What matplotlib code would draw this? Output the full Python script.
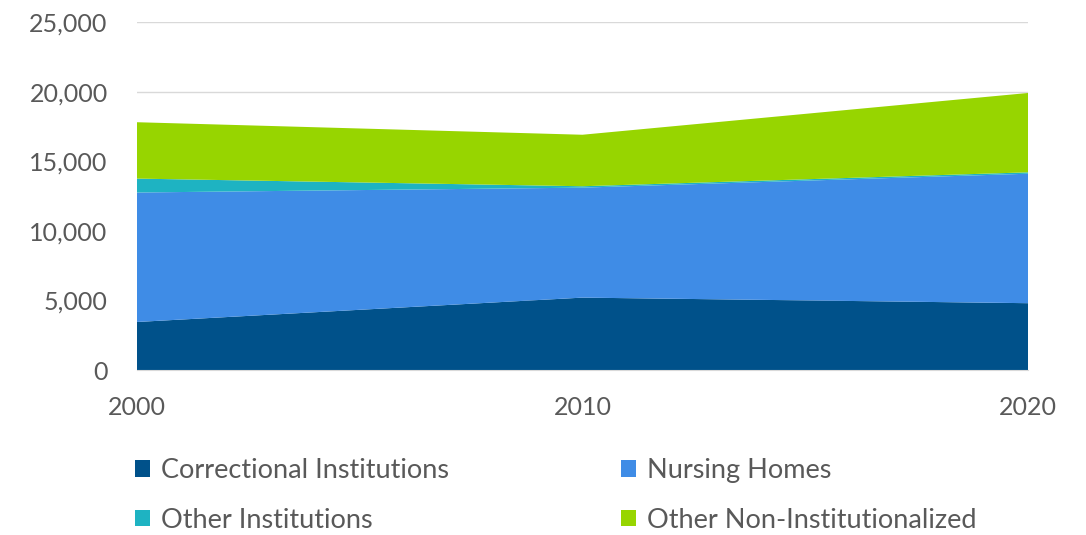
import matplotlib
matplotlib.use("Agg")
import matplotlib.pyplot as plt
from matplotlib.patches import Patch
from matplotlib.ticker import FuncFormatter

# данные
years = [2000, 2010, 2020]
correctional = [3450, 5200, 4800]
nursing = [9300, 7900, 9300]
other_inst = [1000, 100, 100]
other_non_inst = [4050, 3700, 5700]

labels = ["Correctional Institutions", "Nursing Homes",
          "Other Institutions", "Other Non-Institutionalized"]
colors = ["#00518A", "#3F8CE6", "#1EB3C2", "#97D500"]

plt.rcParams['font.family'] = ['Lato', 'DejaVu Sans']
text_color = "#595959"

fig = plt.figure(figsize=(10.86, 5.35), dpi=100)
ax = fig.add_axes([0.126, 0.3084, 0.8206, 0.6505])

ax.stackplot(years, correctional, nursing, other_inst, other_non_inst,
             colors=colors, linewidth=0)

ax.set_xlim(2000, 2020)
ax.set_ylim(0, 25000)
ax.set_xticks(years)
ax.set_yticks(range(0, 25001, 5000))
ax.yaxis.set_major_formatter(FuncFormatter(lambda v, p: f"{int(v):,}"))
ax.grid(axis="y", color="#D9D9D9", linewidth=1)
ax.set_axisbelow(True)

for side in ["top", "right", "left"]:
    ax.spines[side].set_visible(False)
ax.spines["bottom"].set_color("#D9D9D9")
ax.tick_params(axis="both", length=0, labelsize=18, labelcolor=text_color)
ax.tick_params(axis="y", pad=21)
ax.tick_params(axis="x", pad=19)

# легенда: порядок по столбцам, чтобы строки совпали с оригиналом
order = [0, 2, 1, 3]
handles = [Patch(facecolor=colors[i], label=labels[i]) for i in order]
fig.legend(handles=handles, ncol=2, loc="center left",
           bbox_to_anchor=(0.102, 0.074), frameon=False,
           fontsize=19.5, labelcolor=text_color,
           handlelength=0.55, handleheight=0.55, handletextpad=0.4,
           columnspacing=6.35, labelspacing=0.9)

fig.savefig("out.png", dpi=100)
